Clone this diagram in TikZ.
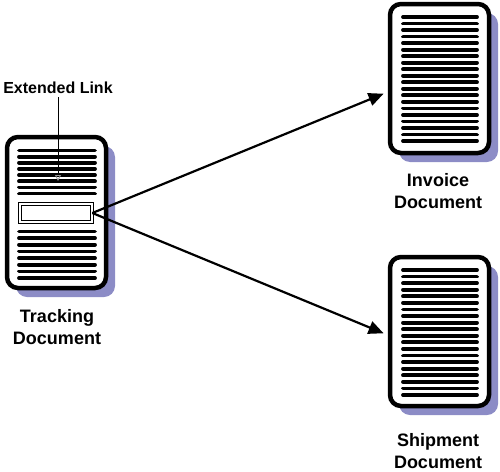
\documentclass[tikz,border=0pt]{standalone}
\usepackage{fontspec}
\setmainfont{Liberation Sans}
\usepackage{xcolor}
\definecolor{docshadow}{RGB}{140,140,198}
\definecolor{tipgray}{RGB}{150,150,150}
\usetikzlibrary{arrows.meta, positioning, shadows}
\tikzset{
  docpage/.style={draw=black, line width=4.5pt, rounded corners=11pt, fill=white,
    minimum width=99pt, minimum height=149pt, inner sep=0pt,
    drop shadow={shadow xshift=9pt, shadow yshift=-9pt, fill=docshadow, opacity=1}},
  docline/.style={line width=3.8pt, line cap=round},
  doclabel/.style={font=\fontsize{18}{22}\selectfont\bfseries, align=center},
  linkarrow/.style={line width=2.2pt, -{Triangle[length=15pt,width=13pt]}, shorten >=4.5pt},
}

\begin{document}
\begin{tikzpicture}[x=1pt,y=-1pt]
  \useasboundingbox (0,0) rectangle (500,471);

  % Tracking document
  \node[docpage, minimum height=151pt] (tracking) at (56.5,212.5) {};
  \foreach \i in {0,...,7} \draw[docline] (19,{150.5+6.15*\i}) -- (95,{150.5+6.15*\i});
  \foreach \i in {0,...,7} \draw[docline] (19,{231.5+6.65*\i}) -- (95,{231.5+6.65*\i});
  \node[draw, double, line width=0.7pt, double distance=2.6pt, fill=white,
    minimum width=72pt, minimum height=18pt, inner sep=0pt] (linkbox) at (56,213) {};
  \node[doclabel] (tracklabel) at (57,327) {Tracking\\Document};

  % Extended link pointer
  \node[font=\fontsize{16}{19}\selectfont\bfseries] (extlink) at (58,88) {Extended Link};
  \coordinate (linkpoint) at (58,181);
  \draw[line width=0.8pt, -{Triangle[open, length=6pt, width=6pt, color=tipgray]}]
    (extlink.south -| linkpoint) -- (linkpoint);

  % Invoice document
  \node[docpage] (invoice) at (439.5,78.5) {};
  \foreach \i in {0,...,19} \draw[docline] (403,{17+6.53*\i}) -- (477,{17+6.53*\i});
  \node[doclabel] (invoicelabel) at (438,191) {Invoice\\Document};

  % Shipment document
  \node[docpage] (shipment) at (439.5,331.5) {};
  \foreach \i in {0,...,19} \draw[docline] (403,{270+6.58*\i}) -- (477,{270+6.58*\i});
  \node[doclabel] (shiplabel) at (438,451) {Shipment\\Document};

  % Links
  \draw[linkarrow] (linkbox.east) -- ([yshift=-13.5pt]invoice.west);
  \draw[linkarrow] (linkbox.east) -- ([yshift=-3.5pt]shipment.west);
\end{tikzpicture}
\end{document}
